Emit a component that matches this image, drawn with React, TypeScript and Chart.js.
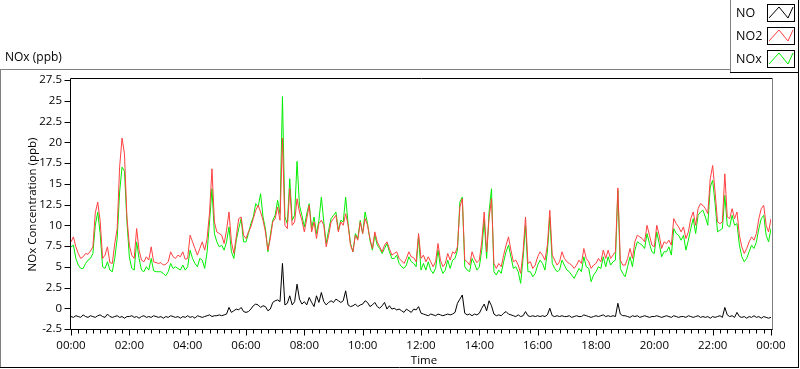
import React, { useEffect, useRef } from 'react';
import { Chart, registerables } from 'chart.js';

Chart.register(...registerables);

const FONT = '"Open Sans", "Noto Sans", sans-serif';

// sampling interval of the series (minutes), starting at 00:00
const intervalMinutes = 5;

const no2Values = [
  8.0, 8.6, 7.4, 6.6, 6.0, 6.2, 6.6, 6.5, 6.9, 7.4, 11.5, 12.8,
  10.5, 6.0, 6.4, 7.4, 5.5, 5.4, 7.8, 9.6, 17.0, 20.5, 18.6, 11.0,
  7.6, 6.4, 6.0, 9.6, 7.0, 5.8, 5.6, 6.2, 5.8, 7.4, 5.6, 5.5,
  5.4, 5.5, 5.2, 5.3, 5.6, 6.8, 6.2, 6.0, 6.4, 6.2, 6.8, 5.9,
  6.0, 8.8, 8.0, 7.2, 6.4, 7.2, 8.0, 7.0, 8.4, 11.5, 16.8, 10.4,
  9.2, 9.0, 8.8, 7.8, 9.4, 11.6, 8.0, 6.6, 8.6, 10.8, 11.0, 8.8,
  8.4, 9.2, 9.8, 10.8, 11.8, 12.4, 11.6, 10.6, 9.2, 7.0, 8.4, 10.4,
  10.8, 12.2, 10.6, 20.5, 10.0, 9.6, 14.4, 10.0, 10.4, 13.2, 11.6, 10.6,
  9.2, 10.8, 12.4, 9.2, 10.4, 8.4, 10.2, 10.6, 10.0, 7.4, 8.8, 10.4,
  10.8, 11.2, 9.2, 10.4, 10.0, 11.4, 10.0, 7.6, 6.8, 8.8, 8.2, 10.4,
  9.0, 10.8, 10.0, 8.4, 7.2, 9.2, 8.0, 7.4, 6.8, 7.6, 8.0, 7.2,
  6.4, 6.6, 6.8, 6.0, 5.7, 5.4, 6.0, 6.8, 6.2, 6.1, 5.6, 9.0,
  6.0, 6.4, 5.6, 6.2, 5.6, 5.0, 5.6, 7.8, 5.8, 5.0, 5.4, 6.6,
  5.8, 6.8, 6.6, 7.4, 12.2, 13.2, 5.8, 5.6, 5.2, 6.8, 6.0, 5.5,
  5.8, 8.0, 11.6, 6.8, 10.8, 13.2, 5.4, 4.8, 5.4, 5.0, 6.4, 7.6,
  8.6, 7.0, 5.6, 5.8, 5.2, 4.2, 6.8, 11.0, 5.4, 5.6, 4.8, 5.2,
  6.2, 6.8, 6.4, 5.8, 7.6, 11.8, 6.4, 5.8, 5.2, 5.6, 6.8, 6.0,
  5.6, 5.4, 5.2, 4.8, 5.2, 5.8, 5.4, 7.2, 6.0, 5.6, 4.8, 5.2,
  5.4, 6.0, 5.6, 7.0, 6.0, 7.0, 6.0, 6.4, 6.8, 14.5, 5.8, 5.2,
  5.2, 6.0, 7.2, 6.0, 8.0, 8.8, 8.6, 8.4, 8.0, 10.0, 8.8, 7.6,
  7.4, 10.0, 8.8, 7.2, 8.0, 7.8, 8.2, 7.6, 10.8, 10.2, 9.8, 9.2,
  9.8, 8.4, 9.2, 10.8, 11.6, 10.0, 12.0, 12.6, 12.4, 12.0, 11.4, 15.6,
  17.2, 14.0, 10.4, 10.2, 10.4, 16.2, 11.0, 10.8, 12.0, 10.8, 11.6, 8.8,
  7.4, 6.6, 7.2, 8.0, 8.6, 8.2, 9.0, 10.8, 12.0, 12.4, 10.0, 9.2,
  10.8,
];

const noxValues = [
  7.4, 7.6, 6.0, 5.2, 4.8, 4.8, 5.4, 5.8, 6.0, 6.6, 10.0, 11.6,
  9.0, 5.0, 4.8, 5.6, 4.6, 4.4, 6.0, 8.4, 14.0, 17.0, 16.5, 10.5,
  6.2, 4.8, 4.6, 8.0, 6.0, 4.6, 4.4, 5.0, 4.6, 6.0, 4.5, 4.4,
  4.4, 4.4, 4.2, 3.9, 4.4, 5.4, 4.8, 5.0, 4.8, 4.6, 5.2, 4.6,
  5.0, 7.0, 6.0, 5.4, 5.0, 6.0, 5.8, 4.8, 6.8, 10.4, 14.4, 9.0,
  8.0, 7.4, 7.6, 7.0, 8.0, 9.8, 6.8, 6.0, 8.2, 9.6, 10.8, 8.0,
  8.0, 9.0, 10.2, 11.0, 12.6, 12.2, 13.8, 11.0, 9.6, 6.8, 8.8, 10.6,
  11.2, 13.0, 11.4, 25.5, 11.0, 10.2, 15.6, 10.6, 11.2, 17.7, 12.4, 11.2,
  9.8, 11.4, 12.6, 9.6, 11.0, 9.0, 10.6, 13.4, 10.4, 7.8, 9.4, 10.8,
  11.2, 11.6, 9.4, 10.6, 10.4, 13.4, 10.2, 7.8, 6.8, 9.0, 8.4, 10.6,
  9.0, 11.6, 10.2, 8.2, 7.0, 8.8, 7.6, 7.2, 6.6, 7.2, 7.8, 6.8,
  6.0, 6.0, 6.4, 5.4, 5.0, 4.8, 5.2, 6.2, 5.6, 5.4, 5.0, 8.6,
  4.6, 5.4, 4.6, 5.6, 4.6, 4.2, 4.8, 7.0, 5.0, 4.2, 4.6, 5.8,
  4.8, 5.8, 6.0, 7.0, 12.8, 13.4, 5.0, 4.6, 4.4, 6.0, 5.4, 4.6,
  5.0, 7.0, 10.6, 6.0, 11.6, 14.4, 4.4, 4.0, 4.6, 4.2, 5.6, 6.8,
  7.6, 6.2, 4.8, 5.0, 4.4, 3.0, 6.0, 10.0, 4.4, 4.4, 3.8, 4.2,
  5.2, 5.8, 5.4, 4.6, 6.8, 11.0, 5.4, 4.8, 4.4, 4.6, 5.8, 5.2,
  4.6, 4.4, 4.0, 3.6, 4.2, 4.8, 4.4, 6.2, 5.0, 4.8, 3.2, 4.0,
  4.4, 5.0, 4.8, 6.2, 5.0, 6.2, 5.2, 5.6, 5.8, 14.2, 4.8, 4.2,
  3.8, 5.0, 6.2, 5.0, 7.0, 8.0, 7.8, 7.6, 7.2, 9.0, 7.8, 6.8,
  6.6, 9.2, 7.8, 6.2, 6.8, 6.8, 7.4, 6.4, 9.6, 9.0, 8.8, 8.2,
  8.8, 7.0, 8.2, 9.6, 10.8, 9.0, 11.2, 11.6, 11.8, 11.0, 10.0, 14.6,
  15.4, 12.6, 9.2, 9.4, 9.6, 13.6, 10.0, 9.8, 11.2, 10.0, 10.2, 7.6,
  6.2, 5.6, 6.0, 6.8, 7.6, 7.2, 8.0, 9.6, 10.8, 11.2, 8.8, 8.0,
  9.6,
];

const noValues = [
  -1.0, -1.1, -0.9, -1.0, -1.1, -0.8, -1.0, -1.1, -0.9, -1.0, -1.1, -0.9,
  -0.8, -1.0, -1.1, -0.7, -1.0, -1.1, -1.0, -0.9, -1.1, -1.0, -1.2, -1.0,
  -1.0, -0.9, -1.1, -1.0, -1.2, -1.0, -0.9, -1.1, -1.0, -1.1, -0.9, -1.0,
  -1.1, -1.0, -1.2, -1.0, -1.1, -0.9, -1.0, -1.1, -1.0, -1.2, -1.0, -1.1,
  -0.9, -1.1, -1.0, -1.2, -0.9, -1.0, -1.1, -1.0, -0.9, -0.8, -1.0, -0.9,
  -0.9, -0.8, -0.9, -0.8, -0.7, 0.1, -0.5, -0.3, -0.1, -0.2, 0.1, -0.4,
  -0.5, -0.4, -0.1, 0.3, 0.5, 0.4, 0.1, 0.3, 0.2, -0.3, -0.1, 0.7,
  0.9, 1.0, 0.8, 5.4, 0.4, 0.6, 1.5, 0.4, 0.8, 2.9, 1.1, 0.5,
  0.8, 0.4, 1.3, 0.7, 0.2, 1.5, 0.7, 1.9, 0.8, 0.4, 0.7, 0.9,
  0.7, 1.1, 0.9, 0.7, 0.9, 2.1, 0.4, 0.2, 0.3, 0.5, 0.2, 0.4,
  0.5, 0.9, 0.7, 0.2, 0.4, 0.7, 0.2, 0.0, 0.3, 0.7, -0.1, 0.3,
  -0.1, 0.0, -0.2, -0.1, -0.3, -0.5, -0.1, -0.3, -0.5, -0.1, -0.2, 0.2,
  -0.6, -0.7, -0.8, -0.9, -0.7, -0.8, -0.9, -0.7, -0.8, -0.9, -0.8, -0.7,
  -0.8, -0.7, -0.5, 0.6, 1.1, 1.6, -0.6, -0.8, -0.7, -0.9, -0.7, -0.8,
  -0.6, 0.0, 0.5, -0.3, 0.9, 0.3, -0.7, -0.9, -0.8, -0.9, -0.6, -0.4,
  -0.7, -0.8, -0.9, -1.0, -0.8, -1.0, -0.9, -0.4, -0.9, -1.0, -0.9, -1.0,
  -0.9, -1.0, -0.9, -1.0, -0.8, 0.0, -0.9, -1.0, -0.9, -1.0, -0.9, -1.0,
  -1.0, -0.9, -1.1, -1.0, -0.9, -1.0, -1.0, -0.8, -0.9, -1.0, -1.1, -1.0,
  -0.9, -1.0, -0.9, -0.8, -1.0, -0.9, -1.0, -0.9, -1.0, 0.6, -0.7, -0.9,
  -0.9, -1.0, -1.1, -0.9, -1.0, -0.9, -1.1, -1.0, -0.9, -1.0, -1.1, -1.0,
  -1.0, -0.9, -1.0, -1.1, -1.0, -0.9, -1.0, -1.1, -0.9, -1.0, -1.1, -1.0,
  -1.0, -1.1, -0.9, -1.0, -1.1, -1.0, -0.9, -1.1, -1.0, -1.1, -1.0, -1.2,
  -1.0, -1.1, -1.0, -0.9, -1.1, 0.1, -0.8, -1.0, -0.9, -1.1, -0.5, -1.0,
  -1.1, -1.0, -1.2, -1.0, -1.1, -0.9, -1.1, -1.0, -1.2, -1.0, -1.1, -1.2,
  -1.1,
];

const seriesNames = ['NO', 'NO2', 'NOx'];
const seriesColors = ['#000000', '#ff4040', '#00ee00'];

const chartTitle = 'NOx (ppb)';
const yAxisTitle = 'NOx Concentration (ppb)';
const xAxisTitle = 'Time';
const yMin = -2.5;
const yMax = 27.5;
const yStep = 2.5;
const xMaxMinutes = 1440;
const xLabelStepMinutes = 120;
const xMinorStepMinutes = 15;

function formatTime(min: number): string {
  const h = Math.round(min / 60) % 24;
  return String(h).padStart(2, '0') + ':00';
}

function toPoints(values: number[]) {
  return values.map((v, i) => ({ x: i * intervalMinutes, y: v }));
}

function line(ctx: CanvasRenderingContext2D, x1: number, y1: number, x2: number, y2: number, color: string) {
  ctx.strokeStyle = color;
  ctx.beginPath();
  ctx.moveTo(x1, y1);
  ctx.lineTo(x2, y2);
  ctx.stroke();
}

const decorPlugin = {
  id: 'labviewDecor',
  afterDraw(chart: any) {
    const ctx: CanvasRenderingContext2D = chart.ctx;
    const a = chart.chartArea;
    const xs = chart.scales.x;
    const ys = chart.scales.y;
    ctx.save();
    ctx.lineWidth = 1;

    // outer panel
    line(ctx, 0, 69.5, 730, 69.5, '#808080');
    line(ctx, 0.5, 69, 0.5, 368, '#808080');
    line(ctx, 0, 367.5, 799, 367.5, '#000000');
    line(ctx, 798.5, 0, 798.5, 368, '#000000');

    // legend panel
    line(ctx, 730.5, 0, 730.5, 72, '#808080');
    line(ctx, 730, 72.5, 799, 72.5, '#000000');

    // plot frame
    const L = Math.round(a.left) - 0.5;
    const R = Math.round(a.right) + 1.5;
    const T = 78.5;
    const B = Math.round(a.bottom) + 0.5;
    line(ctx, L, T, R, T, '#000000');
    line(ctx, L, T, L, B, '#000000');
    line(ctx, R, T, R, B + 0.5, '#808080');
    line(ctx, L, B, R, B, '#000000');

    // y ticks
    for (let v = yMin; v <= yMax + 1e-9; v += yStep) {
      const y = Math.round(ys.getPixelForValue(v)) + 0.5;
      line(ctx, L - 6, y, L, y, '#000000');
    }
    // x ticks
    for (let m = 0; m <= xMaxMinutes; m += xMinorStepMinutes) {
      const x = Math.round(xs.getPixelForValue(m)) + 0.5;
      const len = m % xLabelStepMinutes === 0 ? 6 : 4;
      line(ctx, x, B, x, B + len, '#000000');
    }

    ctx.fillStyle = '#000000';
    ctx.font = '12px ' + FONT;
    ctx.textBaseline = 'middle';
    ctx.textAlign = 'left';
    ctx.fillText(chartTitle, 5, 58);

    ctx.font = '11.5px ' + FONT;
    ctx.textAlign = 'center';
    ctx.fillText(xAxisTitle, (a.left + a.right) / 2 + 3, 361);

    ctx.save();
    ctx.translate(33, (a.top + a.bottom) / 2);
    ctx.rotate(-Math.PI / 2);
    ctx.fillText(yAxisTitle, 0, 0);
    ctx.restore();

    // legend
    ctx.font = '12.5px ' + FONT;
    ctx.textAlign = 'left';
    const rowsY = [4, 27, 50];
    seriesNames.forEach((name, i) => {
      const top = rowsY[i];
      ctx.fillStyle = '#000000';
      ctx.fillText(name, 736, top + 9);
      ctx.fillStyle = '#ffffff';
      ctx.fillRect(767, top, 27, 17);
      ctx.strokeStyle = '#000000';
      ctx.strokeRect(767.5, top + 0.5, 27, 17);
      ctx.strokeStyle = seriesColors[i];
      ctx.beginPath();
      ctx.moveTo(769, top + 14);
      ctx.lineTo(779, top + 3);
      ctx.lineTo(788, top + 14);
      ctx.lineTo(793, top + 3);
      ctx.stroke();
    });

    ctx.restore();
  },
};

export default function App() {
  const canvasRef = useRef<HTMLCanvasElement | null>(null);

  useEffect(() => {
    const canvas = canvasRef.current;
    if (!canvas) return;
    const datasets = [noValues, no2Values, noxValues].map((vals, i) => ({
      label: seriesNames[i],
      data: toPoints(vals),
      borderColor: seriesColors[i],
      backgroundColor: seriesColors[i],
      borderWidth: 1,
      pointRadius: 0,
      tension: 0,
      fill: false,
    }));
    const chart = new Chart(canvas, {
      type: 'line',
      data: { datasets },
      options: {
        responsive: false,
        animation: false,
        devicePixelRatio: 1,
        layout: { padding: { left: 0, right: 29, top: 80, bottom: 0 } },
        plugins: {
          legend: { display: false },
          tooltip: { enabled: false },
          title: { display: false },
        },
        scales: {
          x: {
            type: 'linear',
            min: 0,
            max: xMaxMinutes,
            grid: { display: false, drawTicks: false },
            border: { display: false },
            ticks: {
              stepSize: xLabelStepMinutes,
              autoSkip: false,
              maxRotation: 0,
              padding: 10,
              color: '#000000',
              font: { family: FONT, size: 11.5 },
              callback: (v: any) => formatTime(Number(v)),
            },
            afterFit: (scale: any) => {
              scale.height = 40;
            },
          },
          y: {
            type: 'linear',
            min: yMin,
            max: yMax,
            grid: { display: false, drawTicks: false },
            border: { display: false },
            ticks: {
              stepSize: yStep,
              padding: 9,
              color: '#000000',
              font: { family: FONT, size: 11.5 },
              callback: (v: any) => String(Number(v)),
            },
            afterFit: (scale: any) => {
              scale.width = 71;
            },
          },
        },
      },
      plugins: [decorPlugin],
    });
    return () => chart.destroy();
  }, []);

  return (
    <div style={{ position: 'absolute', left: 0, top: 0, width: 800, height: 369, background: '#ffffff' }}>
      <canvas ref={canvasRef} width={800} height={369} style={{ display: 'block' }} />
    </div>
  );
}
